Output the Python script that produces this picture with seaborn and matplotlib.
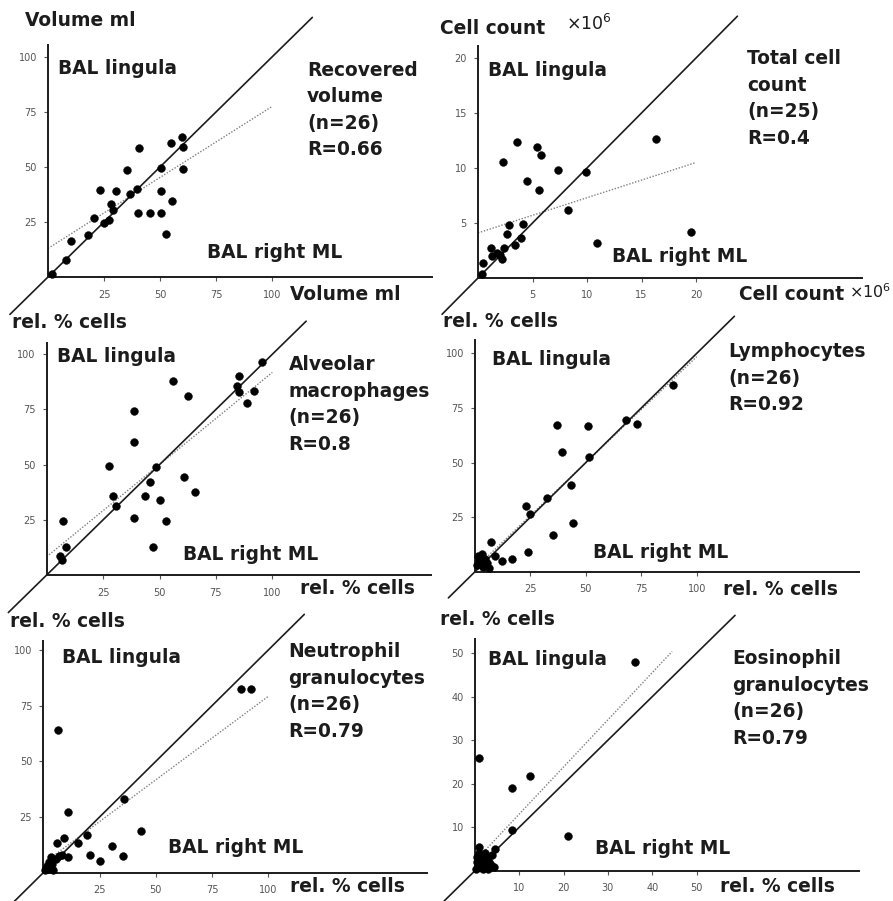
import matplotlib
matplotlib.use("Agg")
import matplotlib.pyplot as plt
import seaborn as sns
import pandas as pd

# ---- data (right ML = x, lingula = y) ----
vol_right = [1.9, 8.2, 10.4, 17.9, 20.4, 23.4, 25.0, 27.4, 28.1, 28.9, 30.4, 35.1, 36.6,
             39.6, 40.6, 40.0, 45.5, 50.6, 50.6, 50.6, 52.6, 55.1, 55.4, 60.0, 60.3, 60.4]
vol_lingula = [1.5, 7.6, 16.4, 19.2, 26.8, 39.4, 24.5, 25.8, 33.0, 30.3, 39.1, 48.8, 37.6,
               40.2, 58.8, 29.1, 29.1, 29.1, 39.1, 49.5, 19.4, 60.9, 34.4, 63.6, 59.1, 48.9]

cells_right = [0.4, 0.5, 1.2, 1.3, 1.7, 2.0, 2.2, 2.3, 2.4, 2.7, 2.8, 3.4, 3.6, 3.9, 4.1,
               4.5, 5.4, 5.6, 5.8, 7.3, 8.3, 9.9, 10.9, 16.3, 19.5]
cells_lingula = [0.4, 1.4, 2.7, 2.0, 2.3, 2.1, 1.7, 10.5, 2.7, 4.0, 4.8, 3.0, 12.4, 3.6, 4.9,
                 8.8, 11.9, 8.0, 11.2, 9.8, 6.2, 9.6, 3.2, 12.6, 4.2]

am_right = [5.9, 6.6, 7.1, 8.4, 27.8, 29.2, 30.6, 38.8, 38.8, 38.8, 43.7, 45.8, 47.1,
            48.4, 50.2, 52.7, 55.8, 60.7, 62.8, 65.7, 84.5, 85.1, 85.4, 88.6, 91.9, 95.6]
am_lingula = [8.6, 6.8, 24.6, 12.5, 49.4, 36.0, 31.4, 74.5, 60.3, 25.7, 35.8, 42.0, 12.7,
              49.1, 34.0, 24.5, 88.1, 44.6, 81.3, 37.5, 85.8, 90.2, 83.1, 77.8, 83.4, 96.4]

ly_right = [1.0, 1.5, 2.0, 3.0, 3.5, 4.5, 5.5, 6.5, 7.0, 9.0, 12.0, 16.5, 22.9, 24.1,
            24.8, 32.3, 35.0, 37.0, 39.2, 43.5, 44.4, 50.8, 51.4, 68.0, 73.0, 89.2]
ly_lingula = [3.0, 7.0, 5.0, 8.0, 2.0, 6.0, 4.0, 1.5, 13.5, 7.0, 5.0, 5.6, 30.2, 8.9,
              26.4, 33.9, 16.8, 67.2, 54.7, 39.7, 22.4, 66.7, 52.7, 69.5, 67.5, 85.5]

ne_right = [0.8, 1.5, 2.0, 2.5, 3.0, 3.5, 4.0, 4.5, 5.5, 7.0, 8.5, 6.7, 6.0, 9.3, 10.8,
            11.1, 15.3, 19.3, 20.8, 25.2, 30.4, 35.6, 35.9, 43.4, 87.7, 92.1]
ne_lingula = [1.0, 3.0, 1.5, 5.0, 2.5, 7.0, 4.0, 1.0, 6.0, 7.5, 8.0, 64.1, 13.2, 15.4, 27.4,
              7.2, 13.5, 16.9, 7.9, 5.4, 12.0, 7.6, 32.9, 18.9, 82.3, 82.3]

eo_right = [0.3, 0.5, 0.8, 1.0, 1.2, 1.5, 1.8, 2.0, 2.2, 2.5, 2.8, 3.0, 3.2, 3.5, 3.8,
            4.2, 0.5, 1.5, 2.5, 1.0, 8.3, 12.4, 8.3, 4.5, 21.1, 36.1]
eo_lingula = [0.5, 2.0, 4.0, 5.5, 1.0, 3.0, 0.5, 2.0, 4.0, 1.0, 3.0, 0.5, 2.0, 1.2, 3.5,
              0.8, 3.2, 1.8, 2.5, 25.8, 18.9, 21.8, 9.4, 5.1, 8.0, 47.9]

# regression lines (intercept, slope, x end)
reg_intercept = [13.0, 4.1, 8.3, 1.5, 4.2, 2.2]
reg_slope = [0.645, 0.32, 0.835, 0.97, 0.75, 1.083]
reg_xmax = [100, 20, 100, 100, 100, 44.5]

tick_values = [[25, 50, 75, 100], [5, 10, 15, 20], [25, 50, 75, 100],
               [25, 50, 75, 100], [25, 50, 75, 100], [10, 20, 30, 40, 50]]
panel_titles = ["Recovered\nvolume\n(n=26)\nR=0.66",
                "Total cell\ncount\n(n=25)\nR=0.4",
                "Alveolar\nmacrophages\n(n=26)\nR=0.8",
                "Lymphocytes\n(n=26)\nR=0.92",
                "Neutrophil\ngranulocytes\n(n=26)\nR=0.79",
                "Eosinophil\ngranulocytes\n(n=26)\nR=0.79"]
axis_units = ["Volume ml", "Cell count", "rel. % cells", "rel. % cells",
              "rel. % cells", "rel. % cells"]

xs = [vol_right, cells_right, am_right, ly_right, ne_right, eo_right]
ys = [vol_lingula, cells_lingula, am_lingula, ly_lingula, ne_lingula, eo_lingula]

# ---- layout (pixels in a 893 x 901 image) ----
W, H = 893, 901
# origin x, origin y, px per unit x, px per unit y
layout = [(48, 277, 2.24, 2.20), (478, 278, 10.9, 11.0),
          (46.7, 575, 2.256, 2.207), (475, 571.7, 2.217, 2.183),
          (43.3, 872.7, 2.25, 2.227), (475, 870.7, 4.43, 4.35)]
diag_span = [(-17, 118), (-3.3, 23.8), (-17, 115), (-12, 117), (-16, 116), (-7, 58.7)]
# text offsets relative to the origin (dx, dy)
title_pos = [(259, -207), (269, -219), (242, -210), (253, -220), (245, -221), (257, -212)]
ling_pos = [(10, -209), (10, -208), (10, -219), (17, -212), (19, -215), (13, -211)]
rml_pos = [(159, -24), (134, -21), (136, -21), (118, -19), (125, -25), (120, -22)]
unit_pos = [(-23, -257), (-38, -250), (-35, -253), (-32, -250), (-33, -251), (-35, -251)]
xlab_pos = [(242, 18), (261, 17), (253, 13), (248, 18), (247, 14), (245, 16)]

ink = "#1c1c1c"
fam = ["DejaVu Sans"]
fs = 13.4

sns.set_theme(style="white")
plt.rcParams["font.family"] = ["DejaVu Sans"]
fig = plt.figure(figsize=(W / 100, H / 100), dpi=100)
fig.patch.set_facecolor("white")


def fx(px):
    return px / W


def fy(py):
    return 1 - py / H


def label(ox, oy, pos, s, dy=0.0):
    fig.text(fx(ox + pos[0]), fy(oy + pos[1] + dy), s, fontsize=fs, va="center",
             ha="left", family=fam, fontweight="bold", color=ink)


for i in range(6):
    ox, oy, kx, ky = layout[i]
    left, right, up, down = 50, 405, 270, 45
    ax = fig.add_axes([fx(ox - left), fy(oy + down), (left + right) / W, (up + down) / H])
    ax.set_facecolor("none")
    ax.set_xlim(-left / kx, right / kx)
    ax.set_ylim(-down / ky, up / ky)

    df = pd.DataFrame({"right": xs[i], "lingula": ys[i]})
    sns.scatterplot(data=df, x="right", y="lingula", ax=ax, color="black",
                    s=32, edgecolor="black", linewidth=0.3, zorder=4, clip_on=False)

    d0, d1 = diag_span[i]
    ax.plot([d0, d1], [d0, d1], color=ink, lw=1.2, clip_on=False, zorder=3)
    xr = [0, reg_xmax[i]]
    ax.plot(xr, [reg_intercept[i] + reg_slope[i] * v for v in xr], color="#808080",
            lw=1.0, ls=(0, (1, 1.2)), clip_on=False, zorder=2)

    for s in ["top", "right"]:
        ax.spines[s].set_visible(False)
    ax.spines["left"].set_position(("data", 0))
    ax.spines["bottom"].set_position(("data", 0))
    ax.spines["left"].set_bounds(0, 232 / ky)
    ax.spines["bottom"].set_bounds(0, 384 / kx)
    for s in ["left", "bottom"]:
        ax.spines[s].set_color(ink)
        ax.spines[s].set_linewidth(1.4)
    ax.set_xticks(tick_values[i])
    ax.set_yticks(tick_values[i])
    ax.set_xticklabels([str(t) for t in tick_values[i]])
    ax.set_yticklabels([str(t) for t in tick_values[i]])
    ax.tick_params(axis="both", direction="out", length=3, width=0.8, colors="#555555",
                   labelsize=7, left=True, bottom=True)
    ax.tick_params(axis="x", pad=6)
    ax.tick_params(axis="y", pad=5)
    ax.set_xlabel("")
    ax.set_ylabel("")

    # texts
    label(ox, oy, ling_pos[i], "BAL lingula")
    label(ox, oy, rml_pos[i], "BAL right ML")
    for j, line in enumerate(panel_titles[i].split("\n")):
        label(ox, oy, title_pos[i], line, dy=26.5 * j)
    label(ox, oy, unit_pos[i], axis_units[i])
    label(ox, oy, xlab_pos[i], axis_units[i])

# x10^6 factor on the cell-count labels
for px, py, size in [(566, 24, 12.5), (849, 292, 11.5)]:
    fig.text(fx(px), fy(py), r"$\times\mathregular{10^6}$", fontsize=size,
             va="center", ha="left", color=ink)

fig.savefig("out.png", dpi=100, facecolor="white")
